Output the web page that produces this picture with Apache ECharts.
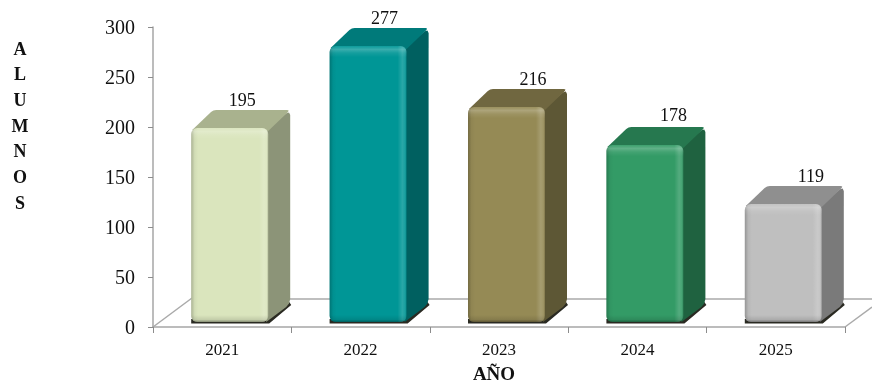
<!DOCTYPE html>
<html><head><meta charset="utf-8">
<style>html,body{margin:0;padding:0;background:#fff}#c{width:872px;height:381px}</style>
<script src="https://cdn.jsdelivr.net/npm/echarts@6/dist/echarts.min.js"></script>
</head><body><div id="c"></div>
<script>
const categories = ['2021','2022','2023','2024','2025'];
const alumnos = [195,277,216,178,119];
const frontColors = ['#DAE5BD','#009696','#958A55','#339B66','#BFBFBF'];
const topColors = ['#A9B28E','#007A7A','#706740','#26784F','#8F8F8F'];
const sideColors = ['#8C9478','#006060','#5D5735','#1F6240','#7A7A7A'];
const yTicks = {min:0,max:300,interval:50};
const yTitle = ['A','L','U','M','N','O','S'];
const xTitle = 'AÑO';

const FONT = '"Liberation Serif", serif';
const chart = echarts.init(document.getElementById('c'), null, {renderer:'canvas'});

function roundedPoly(pts, r){
  const out=[];
  pts.forEach((p,i)=>{
    const a=pts[(i+pts.length-1)%pts.length], b=pts[(i+1)%pts.length];
    if(!p[2]){out.push([p[0],p[1]]);return;}
    const d1=Math.hypot(a[0]-p[0],a[1]-p[1]), d2=Math.hypot(b[0]-p[0],b[1]-p[1]);
    const q1=[p[0]+(a[0]-p[0])*r/d1,p[1]+(a[1]-p[1])*r/d1];
    const q2=[p[0]+(b[0]-p[0])*r/d2,p[1]+(b[1]-p[1])*r/d2];
    out.push(q1);
    out.push([(q1[0]+q2[0])/2*0.6+p[0]*0.4,(q1[1]+q2[1])/2*0.6+p[1]*0.4]);
    out.push(q2);
  });
  return out;
}

function renderBar(params, api){
  const i = api.value(0), v = api.value(1);
  const c = api.coord([i, v]), c0 = api.coord([i, 0]);
  const w = 77, dx = 22, dy = 18;
  const x0 = c[0] - 31, x1 = x0 + w;
  const base = c0[1] - 5, top = c[1] - 4;
  const labelNudge = [[20,0],[24,0],[34,0],[36,-2],[35,0]][i];
  const grad = (x,y,x2,y2,stops)=>new echarts.graphic.LinearGradient(x,y,x2,y2,stops.map(s=>({offset:s[0],color:s[1]})));
  const front = frontColors[i], topC = topColors[i], side = sideColors[i];
  const lw = 7/w, lh = 7/(base-top);
  return {type:'group',children:[
    {type:'polygon',shape:{points:[[x0,base+1.5],[x1+1,base+1.5],[x1+dx+1,base-dy+1],[x1+dx-1,base-dy-2],[x1,base-3],[x0,base-3]]},style:{fill:'#2a2a22'}},
    {type:'polygon',shape:{points:roundedPoly([[x1-2,top+2],[x1+dx,top-dy,1],[x1+dx,base-dy,1],[x1-2,base]],5)},style:{fill:side}},
    {type:'polygon',shape:{points:roundedPoly([[x0+1,top+2],[x0+dx,top-dy,1],[x1+dx,top-dy,1],[x1,top+3]],3)},style:{fill:topC}},
    {type:'rect',shape:{x:x0,y:top,width:w,height:base-top,r:6},style:{fill:front}},
    {type:'rect',shape:{x:x0,y:top,width:w,height:base-top,r:6},style:{fill:grad(0,0,1,0,[[0,'rgba(0,0,0,0.22)'],[lw*0.5,'rgba(0,0,0,0.04)'],[lw,'rgba(0,0,0,0)'],[1-lw*1.3,'rgba(255,255,255,0)'],[1-lw*0.6,'rgba(255,255,255,0.16)'],[1-lw*0.25,'rgba(255,255,255,0.1)'],[1,'rgba(0,0,0,0.18)']])}},
    {type:'rect',shape:{x:x0,y:top,width:w,height:base-top,r:6},style:{fill:grad(0,0,0,1,[[0,'rgba(255,255,255,0.05)'],[lh*0.5,'rgba(255,255,255,0.22)'],[lh,'rgba(255,255,255,0.08)'],[lh*1.6,'rgba(255,255,255,0)'],[1-lh,'rgba(0,0,0,0)'],[1-lh*0.35,'rgba(0,0,0,0.1)'],[1,'rgba(0,0,0,0.38)']])}},
    {type:'text',x:c[0]+labelNudge[0],y:top-dy+labelNudge[1],style:{text:String(v),fill:'#111',font:'18px '+FONT,textAlign:'center',textVerticalAlign:'bottom'}}
  ]};
}

chart.setOption({
  animation:false,
  backgroundColor:'#fff',
  grid:{left:153,top:27,width:692,height:300,containLabel:false,outerBoundsMode:'none'},
  graphic:[
    {type:'polyline',z:0,shape:{points:[[153,327],[192,298]]},style:{stroke:'#aaa',lineWidth:1.5,fill:null}},
    {type:'polyline',z:0,shape:{points:[[192,299],[872,299]]},style:{stroke:'#aaa',lineWidth:1.5,fill:null}},
    {type:'polyline',z:0,shape:{points:[[845,327],[872,307]]},style:{stroke:'#aaa',lineWidth:1.5,fill:null}},
    {type:'text',x:20,y:37,style:{text:yTitle.join('\n'),fill:'#111',font:'bold 18px '+FONT,lineHeight:25.7,textAlign:'center'}}
  ],
  xAxis:{type:'category',data:categories,
    name:xTitle,nameLocation:'middle',nameGap:39,
    nameTextStyle:{fontFamily:FONT,fontWeight:'bold',fontSize:19,color:'#111',padding:[0,10,0,0]},
    axisLine:{lineStyle:{color:'#a6a6a6',width:1.5}},
    axisTick:{show:true,length:6,lineStyle:{color:'#8c8c8c'}},
    axisLabel:{color:'#111',fontFamily:FONT,fontSize:17,margin:15},
    splitLine:{show:false}},
  yAxis:{type:'value',min:yTicks.min,max:yTicks.max,interval:yTicks.interval,
    axisLine:{show:true,lineStyle:{color:'#a6a6a6',width:1.5}},
    axisTick:{show:true,length:5,lineStyle:{color:'#8c8c8c'}},
    axisLabel:{margin:18,formatter:'{a|{value}}',rich:{a:{color:'#111',fontFamily:FONT,fontSize:20,padding:[3,0,0,0]}}},
    splitLine:{show:false}},
  series:[{type:'custom',renderItem:renderBar,encode:{x:0,y:1},clip:false,
    data:alumnos.map((v,i)=>[i,v])}]
});
</script></body></html>
